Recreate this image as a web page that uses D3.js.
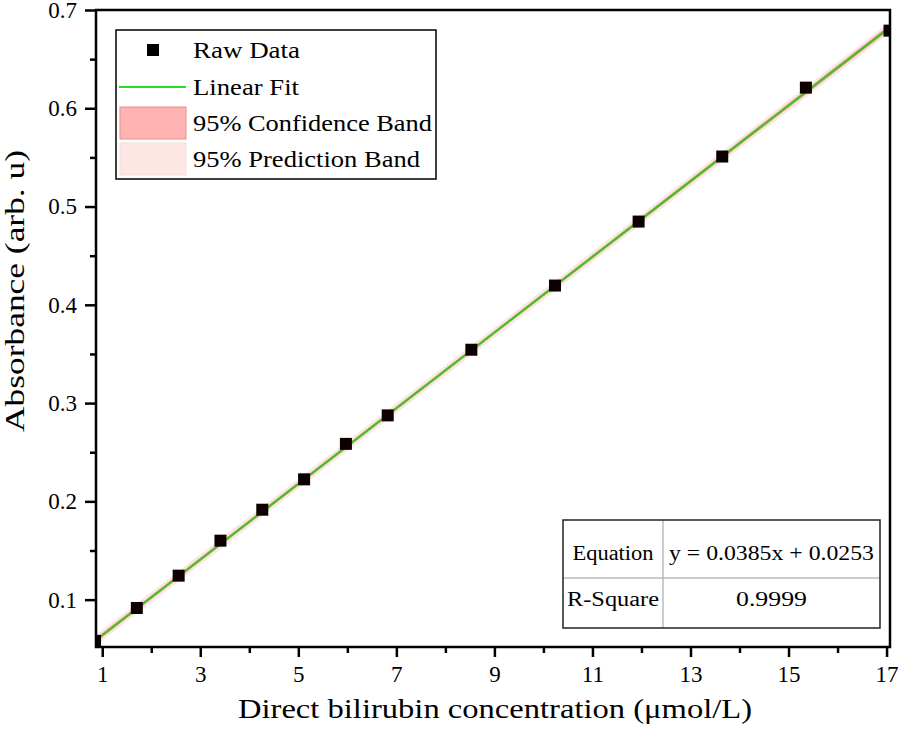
<!DOCTYPE html>
<html><head><meta charset="utf-8">
<script src="https://cdn.jsdelivr.net/npm/d3@7"></script>
<style>body{margin:0;background:#fff}svg{display:block}</style>
</head><body><svg id="c" width="898" height="729"></svg>
<script>
const concentrations = [0.853, 1.706, 2.559, 3.412, 4.265, 5.118, 5.971, 6.824, 8.53, 10.236, 11.942, 13.648, 15.354, 17.06];
const absorbance = [0.058, 0.0915, 0.1244, 0.160, 0.1915, 0.2224, 0.2585, 0.2875, 0.3543, 0.4196, 0.4847, 0.5509, 0.621, 0.679];
const slope = 0.0385, intercept = 0.0253;
const xTicks = [1, 3, 5, 7, 9, 11, 13, 15, 17];
const xMinor = [2, 4, 6, 8, 10, 12, 14, 16];
const yTicks = [0.1, 0.2, 0.3, 0.4, 0.5, 0.6, 0.7];
const yMinor = [0.15, 0.25, 0.35, 0.45, 0.55, 0.65];
const legendItems = ["Raw Data", "Linear Fit", "95% Confidence Band", "95% Prediction Band"];
const tableRows = [["Equation", "y = 0.0385x + 0.0253"], ["R-Square", "0.9999"]];

const svg = d3.select("#c");
const L = 96, R = 890, T = 10, B = 647;
const x = d3.scaleLinear().domain([0.873, 17.07]).range([L, R]);
const y = d3.scaleLinear().domain([0.0518, 0.7]).range([B, T]);
const serif = "'Liberation Serif','Times New Roman',serif";

// regression stats for bands
const n = concentrations.length;
const mx = d3.mean(concentrations);
const sxx = d3.sum(concentrations, v => (v - mx) ** 2);
const res = concentrations.map((v, i) => absorbance[i] - (slope * v + intercept));
const s = Math.sqrt(d3.sum(res, r => r * r) / (n - 2));
const t = 2.179;
const xs = d3.range(0.8, 17.2, 0.1);
const conf = xs.map(v => ({x: v, f: slope * v + intercept, h: t * s * Math.sqrt(1 / n + (v - mx) ** 2 / sxx)}));
const pred = xs.map(v => ({x: v, f: slope * v + intercept, h: t * s * Math.sqrt(1 + 1 / n + (v - mx) ** 2 / sxx)}));

svg.append("clipPath").attr("id", "clip").append("rect").attr("x", L).attr("y", T).attr("width", R - L).attr("height", B - T);
const g = svg.append("g").attr("clip-path", "url(#clip)");
const area = d3.area().x(d => x(d.x)).y0(d => y(d.f - d.h)).y1(d => y(d.f + d.h));
g.append("path").datum(pred).attr("d", area).attr("fill", "#fde3e1");
g.append("path").datum(conf).attr("d", area).attr("fill", "#ffb3b3");
g.append("path").datum([0.8, 17.2]).attr("d", d3.line().x(v => x(v)).y(v => y(slope * v + intercept)))
  .attr("stroke", "#52bb2c").attr("stroke-width", 2.5).attr("fill", "none");
const sz = 12;
g.selectAll("rect.pt").data(concentrations).join("rect").attr("class", "pt")
  .attr("x", (v) => x(v) - sz / 2).attr("y", (v, i) => y(absorbance[i]) - sz / 2)
  .attr("width", sz).attr("height", sz).attr("fill", "#0d0000");

// axes
svg.append("g").attr("transform", `translate(0,${B})`)
  .call(d3.axisBottom(x).tickValues(xTicks).tickSize(10).tickPadding(9).tickFormat(d3.format("d")));
svg.append("g").attr("transform", `translate(0,${B})`)
  .call(d3.axisBottom(x).tickValues(xMinor).tickSize(6).tickFormat(""));
svg.append("g").attr("transform", `translate(${L},0)`)
  .call(d3.axisLeft(y).tickValues(yTicks).tickSize(11).tickPadding(8).tickFormat(d3.format(".1f")));
svg.append("g").attr("transform", `translate(${L},0)`)
  .call(d3.axisLeft(y).tickValues(yMinor).tickSize(6).tickFormat(""));
svg.selectAll(".domain").remove();
svg.selectAll(".tick line").attr("stroke", "#000").attr("stroke-width", 2.5);
svg.selectAll(".tick text").attr("font-family", serif).attr("font-size", 23).attr("fill", "#000");
svg.append("rect").attr("x", L).attr("y", T).attr("width", R - L).attr("height", B - T)
  .attr("fill", "none").attr("stroke", "#000").attr("stroke-width", 2.5);

// axis titles
svg.append("text").attr("x", 495).attr("y", 718).attr("text-anchor", "middle")
  .attr("font-family", serif).attr("font-size", 28).attr("textLength", 514).attr("lengthAdjust", "spacingAndGlyphs")
  .text("Direct bilirubin concentration (μmol/L)");
svg.append("text").attr("transform", "translate(24,291) rotate(-90)").attr("text-anchor", "middle")
  .attr("font-family", serif).attr("font-size", 28).attr("textLength", 282).attr("lengthAdjust", "spacingAndGlyphs")
  .text("Absorbance (arb. u)");

// legend
const lg = svg.append("g");
lg.append("rect").attr("x", 116).attr("y", 30).attr("width", 320).attr("height", 149)
  .attr("fill", "#fff").attr("stroke", "#000").attr("stroke-width", 1.5);
const rowY = [50, 87, 123, 159];
const legendLen = [107, 106, 239, 227];
lg.append("rect").attr("x", 147).attr("y", rowY[0] - 6).attr("width", 12).attr("height", 12).attr("fill", "#000");
lg.append("line").attr("x1", 119).attr("x2", 186).attr("y1", rowY[1]).attr("y2", rowY[1]).attr("stroke", "#22dd22").attr("stroke-width", 2);
lg.append("rect").attr("x", 120).attr("y", rowY[2] - 16).attr("width", 66).attr("height", 32).attr("fill", "#ffb3b3").attr("stroke", "#f08a8a").attr("stroke-width", 1);
lg.append("rect").attr("x", 120).attr("y", rowY[3] - 16).attr("width", 66).attr("height", 32).attr("fill", "#fde6e4").attr("stroke", "#eee6d6").attr("stroke-width", 1);
lg.selectAll("text.lt").data(legendItems).join("text").attr("class", "lt")
  .attr("x", 193).attr("y", (d, i) => rowY[i] + 8).attr("font-family", serif).attr("font-size", 23)
  .attr("textLength", (d, i) => legendLen[i]).attr("lengthAdjust", "spacingAndGlyphs").text(d => d);

// table
const tb = svg.append("g");
const tx0 = 563, tx1 = 663, tx2 = 880, ty0 = 520, ty1 = 578, ty2 = 628;
tb.append("rect").attr("x", tx0).attr("y", ty0).attr("width", tx2 - tx0).attr("height", ty2 - ty0).attr("fill", "#fff");
tb.append("line").attr("x1", tx1).attr("x2", tx1).attr("y1", ty0).attr("y2", ty2).attr("stroke", "#bbb").attr("stroke-width", 1.5);
tb.append("line").attr("x1", tx0).attr("x2", tx2).attr("y1", ty1).attr("y2", ty1).attr("stroke", "#bbb").attr("stroke-width", 1.5);
tb.append("rect").attr("x", tx0).attr("y", ty0).attr("width", tx2 - tx0).attr("height", ty2 - ty0).attr("fill", "none").attr("stroke", "#222").attr("stroke-width", 1.5);
const rowBase = [560, 606];
const cellLen = [[81, 205], [92, 71]];
tableRows.forEach((r, i) => {
  tb.append("text").attr("x", (tx0 + tx1) / 2).attr("y", rowBase[i]).attr("text-anchor", "middle").attr("font-family", serif)
    .attr("font-size", 20).attr("textLength", cellLen[i][0]).attr("lengthAdjust", "spacingAndGlyphs").text(r[0]);
  tb.append("text").attr("x", (tx1 + tx2) / 2).attr("y", rowBase[i]).attr("text-anchor", "middle").attr("font-family", serif)
    .attr("font-size", 20).attr("textLength", cellLen[i][1]).attr("lengthAdjust", "spacingAndGlyphs").text(r[1]);
});
</script></body></html>
